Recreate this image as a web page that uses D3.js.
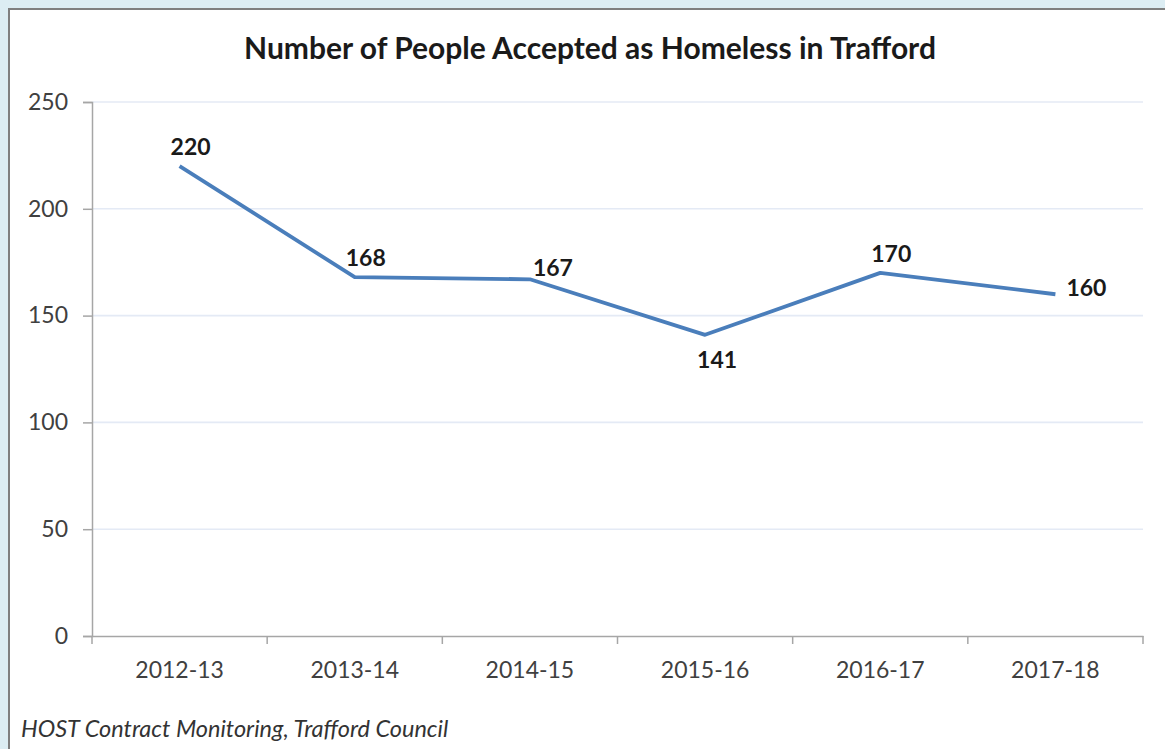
<!DOCTYPE html>
<html>
<head>
<meta charset="utf-8">
<script src="https://cdn.jsdelivr.net/npm/d3@7"></script>
<style>
  html, body { margin: 0; padding: 0; background: #dcedf3; }
  svg { display: block; }
</style>
</head>
<body>
<svg id="chart" width="1165" height="749"></svg>
<script>
// Homeless acceptances per financial year
const years = ["2012-13", "2013-14", "2014-15", "2015-16", "2016-17", "2017-18"];
const accepted = [220, 168, 167, 141, 170, 160];
const yTicks = [0, 50, 100, 150, 200, 250];
// where each value label sits relative to its point
const labelSide = ["top", "top", "topright", "bottom", "top", "right"];

const titleText = "Number of People Accepted as Homeless in Trafford";
const sourceText = "HOST Contract Monitoring, Trafford Council";

const W = 1165, H = 749;
const margin = { left: 92, right: 22, top: 102, bottom: 113 };
const font = "Lato, 'Open Sans', sans-serif";

const svg = d3.select("#chart");

// white panel with grey frame
svg.append("rect")
  .attr("x", 9).attr("y", 9)
  .attr("width", W).attr("height", H)
  .attr("fill", "#ffffff")
  .attr("stroke", "#7f7f7f")
  .attr("stroke-width", 2);

const x = d3.scaleBand()
  .domain(years)
  .range([margin.left, W - margin.right])
  .paddingInner(0).paddingOuter(0);

const y = d3.scaleLinear()
  .domain([0, 250])
  .range([H - margin.bottom, margin.top]);

// horizontal gridlines
svg.append("g")
  .selectAll("line")
  .data(yTicks.filter(d => d > 0))
  .join("line")
  .attr("x1", margin.left).attr("x2", W - margin.right)
  .attr("y1", d => y(d)).attr("y2", d => y(d))
  .attr("stroke", "#e4eaf5")
  .attr("stroke-width", 1.6);

// y axis
const yAxis = svg.append("g")
  .attr("transform", `translate(${margin.left},0)`)
  .call(d3.axisLeft(y).tickValues(yTicks).tickSize(9).tickPadding(15));
yAxis.select(".domain").attr("stroke", "#a6a6a6").attr("stroke-width", 1.5);
yAxis.selectAll(".tick line").attr("stroke", "#a6a6a6").attr("stroke-width", 1.5);
yAxis.selectAll(".tick text")
  .attr("font-family", font).attr("font-size", 23).attr("fill", "#404040");

// x axis: ticks at category boundaries
const xAxis = svg.append("g")
  .attr("transform", `translate(0,${y(0)})`)
  .call(d3.axisBottom(x).tickSize(0).tickPadding(26));
xAxis.select(".domain").attr("stroke", "#a6a6a6").attr("stroke-width", 1.5);
xAxis.selectAll(".tick text")
  .attr("font-family", font).attr("font-size", 23).attr("fill", "#404040");
const bounds = years.map(d => x(d)).concat([x(years[years.length - 1]) + x.bandwidth()]);
xAxis.selectAll(".bound")
  .data(bounds)
  .join("line")
  .attr("class", "bound")
  .attr("x1", d => d).attr("x2", d => d)
  .attr("y1", 0).attr("y2", 8)
  .attr("stroke", "#a6a6a6").attr("stroke-width", 1.5);

// series line
const cx = d => x(d) + x.bandwidth() / 2;
const line = d3.line()
  .x((d, i) => cx(years[i]))
  .y(d => y(d));

svg.append("path")
  .datum(accepted)
  .attr("d", line)
  .attr("fill", "none")
  .attr("stroke", "#4a7ebb")
  .attr("stroke-width", 3.8)
  .attr("stroke-linejoin", "round");

// value labels
const offsets = {
  top: [11, -11],
  topright: [23, -3],
  bottom: [12, 33],
  right: [31, 2]
};
svg.append("g")
  .selectAll("text")
  .data(accepted)
  .join("text")
  .attr("x", (d, i) => cx(years[i]) + offsets[labelSide[i]][0])
  .attr("y", d => y(d))
  .attr("dy", (d, i) => offsets[labelSide[i]][1])
  .attr("text-anchor", "middle")
  .attr("font-family", font)
  .attr("font-weight", "bold")
  .attr("font-size", 23)
  .attr("fill", "#1a1a1a")
  .text(d => d);

// title
svg.append("text")
  .attr("x", 590).attr("y", 59)
  .attr("text-anchor", "middle")
  .attr("font-family", font)
  .attr("font-weight", "bold")
  .attr("font-size", 30)
  .attr("fill", "#1a1a1a")
  .text(titleText);

// source note
svg.append("text")
  .attr("x", 21).attr("y", 737)
  .attr("font-family", font)
  .attr("font-style", "italic")
  .attr("font-size", 23.5)
  .attr("fill", "#333333")
  .text(sourceText);
</script>
</body>
</html>
